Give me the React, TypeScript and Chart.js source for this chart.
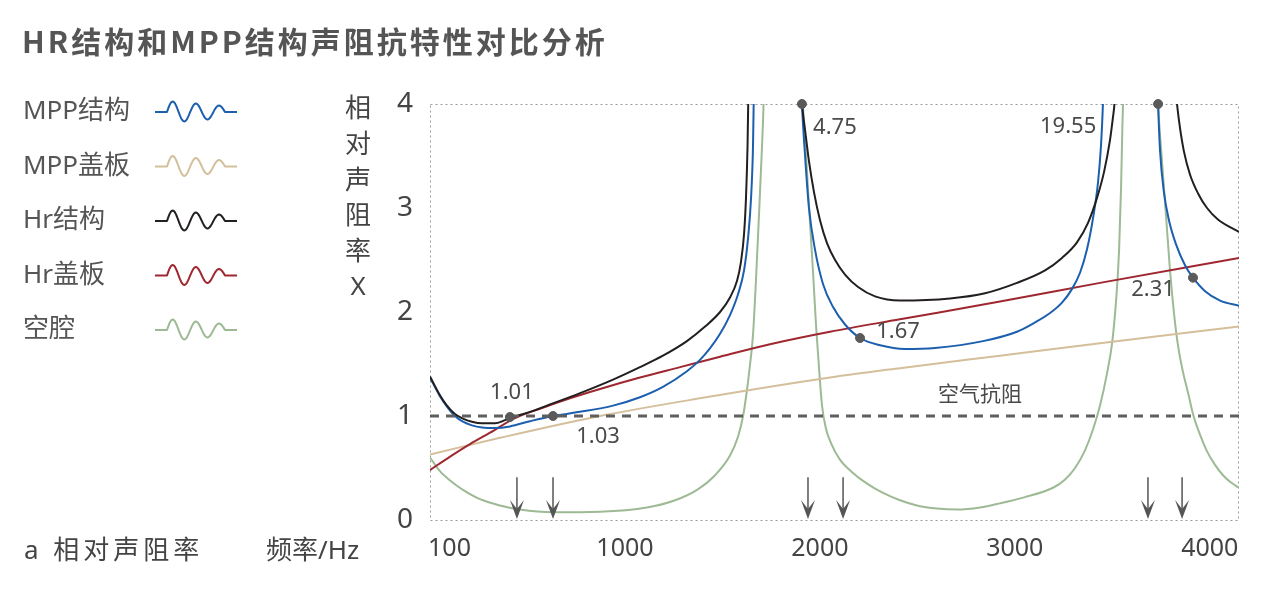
import { useEffect, useRef } from "react";
import { Chart, registerables } from "chart.js";

Chart.register(...registerables);

const FONT = "'Noto Sans', 'Noto Sans CJK SC', sans-serif";
const CJK_FONT = "'Noto Sans CJK SC', 'Noto Sans', sans-serif";

const TITLE = "HR结构和MPP结构声阻抗特性对比分析";
const Y_TITLE = ["相", "对", "声", "阻", "率", "X"];
const CORNER_LABEL = "a 相对声阻率";
const X_TITLE = "频率/Hz";
const AIR_LABEL = "空气抗阻";

const X_TICKS = [100, 1000, 2000, 3000, 4000];
const Y_TICKS = [0, 1, 2, 3, 4];

// MPP结构 (blue); null = the curve is above the plot there
const MPP_FREQ = [0, 51, 87, 128, 169, 215, 267, 333, 410, 513, 631, 770, 939, 1077, 1195, 1318, 1385, 1436, 1488, 1539, 1580, 1611, 1631, 1647, 1657, 1662, 1667, 1780, 1904, 1908, 1924, 1944, 1975, 2016, 2067, 2129, 2206, 2309, 2437, 2591, 2837, 3011, 3104, 3181, 3242, 3293, 3335, 3370, 3401, 3427, 3442, 3452, 3460, 3600, 3732, 3735, 3745, 3765, 3791, 3827, 3873, 3914, 3976, 4053, 4150];
const MPP_X = [1.37, 1.19, 1.09, 1.0, 0.945, 0.91, 0.89, 0.885, 0.9, 0.95, 1.0, 1.04, 1.1, 1.18, 1.28, 1.43, 1.54, 1.65, 1.79, 1.97, 2.17, 2.4, 2.7, 3.1, 3.6, 4.2, 4.6, null, 4.2, 4.0, 3.5, 3.0, 2.6, 2.27, 2.05, 1.88, 1.75, 1.68, 1.645, 1.655, 1.72, 1.81, 1.9, 1.99, 2.09, 2.22, 2.38, 2.6, 2.9, 3.25, 3.6, 4.0, 4.5, null, 4.2, 4.0, 3.55, 3.15, 2.88, 2.65, 2.45, 2.33, 2.2, 2.11, 2.06];

// MPP盖板 (tan)
const MPP_COVER_FREQ = [0, 359, 872, 1385, 2052, 2411, 2924, 3437, 4150];
const MPP_COVER_X = [0.63, 0.79, 1.0, 1.17, 1.37, 1.46, 1.58, 1.7, 1.86];

// Hr结构 (black)
const HR_FREQ = [0, 51, 87, 128, 169, 215, 267, 333, 385, 436, 513, 600, 770, 939, 1077, 1195, 1318, 1411, 1488, 1539, 1575, 1595, 1611, 1621, 1629, 1634, 1636, 1780, 1900, 1908, 1924, 1944, 1970, 2001, 2037, 2078, 2129, 2196, 2283, 2411, 2668, 2847, 3011, 3155, 3242, 3319, 3376, 3422, 3458, 3488, 3504, 3511, 3518, 3700, 3822, 3832, 3848, 3868, 3899, 3940, 3986, 4042, 4150];
const HR_X = [1.38, 1.2, 1.1, 1.02, 0.975, 0.945, 0.93, 0.93, 0.96, 0.995, 1.04, 1.1, 1.22, 1.35, 1.47, 1.58, 1.72, 1.86, 2.0, 2.14, 2.3, 2.48, 2.75, 3.1, 3.6, 4.2, 4.6, null, 4.2, 4.0, 3.75, 3.45, 3.15, 2.88, 2.66, 2.5, 2.36, 2.24, 2.15, 2.11, 2.13, 2.18, 2.28, 2.4, 2.52, 2.67, 2.86, 3.1, 3.35, 3.65, 3.88, 4.0, 4.25, null, 4.2, 4.0, 3.76, 3.54, 3.32, 3.14, 3.0, 2.89, 2.77];

// Hr盖板 (red)
const HR_COVER_FREQ = [0, 103, 205, 308, 436, 564, 718, 872, 1077, 1283, 1488, 1744, 2052, 2411, 2924, 3437, 4150];
const HR_COVER_X = [0.48, 0.61, 0.73, 0.84, 0.98, 1.07, 1.17, 1.26, 1.37, 1.47, 1.57, 1.69, 1.81, 1.93, 2.1, 2.28, 2.52];

// 空腔 (green)
const CAVITY_FREQ = [0, 51, 103, 169, 257, 359, 462, 631, 872, 1113, 1257, 1370, 1462, 1539, 1580, 1606, 1626, 1642, 1657, 1672, 1688, 1701, 1711, 1716, 1800, 1909, 1913, 1934, 1949, 1965, 1980, 1996, 2011, 2031, 2057, 2103, 2165, 2242, 2324, 2411, 2498, 2601, 2704, 2822, 2924, 3052, 3196, 3258, 3309, 3360, 3401, 3437, 3473, 3499, 3519, 3535, 3545, 3552, 3555, 3560, 3650, 3731, 3735, 3755, 3776, 3796, 3817, 3837, 3863, 3889, 3914, 3950, 3986, 4027, 4068, 4109, 4150];
const CAVITY_X = [0.6, 0.47, 0.38, 0.29, 0.2, 0.14, 0.1, 0.075, 0.08, 0.12, 0.19, 0.29, 0.43, 0.62, 0.8, 1.0, 1.25, 1.5, 1.78, 2.3, 2.95, 3.5, 4.0, 4.5, null, 4.2, 4.0, 3.35, 2.87, 2.38, 1.88, 1.45, 1.1, 0.88, 0.74, 0.58, 0.46, 0.35, 0.26, 0.19, 0.14, 0.11, 0.1, 0.12, 0.16, 0.22, 0.31, 0.39, 0.5, 0.67, 0.87, 1.1, 1.41, 1.7, 2.1, 2.6, 3.2, 3.8, 4.0, 4.5, null, 4.2, 4.0, 3.45, 2.92, 2.4, 1.98, 1.68, 1.42, 1.22, 1.02, 0.82, 0.66, 0.53, 0.43, 0.36, 0.31];

// air resistance reference level
const AIR_FREQ = [0, 4150];
const AIR_X = [1, 1];

// marked points
const MARK_FREQ = [410, 631, 1908, 2206, 3735, 3914];
const MARK_X = [0.99, 1.0, 4.0, 1.75, 4.0, 2.33];
const MARK_LABELS = ["1.01", "1.03", "4.75", "1.67", "19.55", "2.31"];

// resonance arrows on the frequency axis
const ARROW_FREQ = [446, 631, 1939, 2119, 3683, 3858];

const toPoints = (freq: number[], vals: (number | null)[]) =>
  freq.map((x, i) => ({ x, y: vals[i] }));

const SERIES = [
  { label: "MPP结构", color: "#1c5fae", freq: MPP_FREQ, vals: MPP_X, order: 3 },
  { label: "MPP盖板", color: "#d4bf9b", freq: MPP_COVER_FREQ, vals: MPP_COVER_X, order: 5 },
  { label: "Hr结构", color: "#231f20", freq: HR_FREQ, vals: HR_X, order: 2 },
  { label: "Hr盖板", color: "#9f2730", freq: HR_COVER_FREQ, vals: HR_COVER_X, order: 4 },
  { label: "空腔", color: "#9dba95", freq: CAVITY_FREQ, vals: CAVITY_X, order: 6 },
];

const LABEL_OFFSETS = [
  [2, -24],
  [45, 21],
  [33, 24],
  [38, -6],
  [-90, 23],
  [-40, 12],
];

function squiggle(ctx: CanvasRenderingContext2D, x0: number, y0: number, color: string) {
  ctx.save();
  ctx.strokeStyle = color;
  ctx.lineWidth = 2;
  ctx.lineJoin = "round";
  ctx.beginPath();
  ctx.moveTo(x0, y0);
  ctx.lineTo(x0 + 12, y0);
  for (let i = 0; i <= 58; i++) {
    const t = i / 58;
    const amp = 11 - 5 * t;
    ctx.lineTo(x0 + 12 + i, y0 - amp * Math.sin(t * Math.PI * 5));
  }
  ctx.lineTo(x0 + 82, y0);
  ctx.stroke();
  ctx.restore();
}

const decor = {
  id: "decor",
  beforeDatasetsDraw(chart: any) {
    const { ctx, chartArea: a } = chart;
    ctx.save();
    ctx.strokeStyle = "#9a9a9a";
    ctx.lineWidth = 1;
    ctx.setLineDash([2, 3]);
    ctx.strokeRect(a.left + 0.5, a.top + 0.5, a.width - 1, a.height);
    ctx.restore();
  },
  afterDatasetsDraw(chart: any) {
    const { ctx } = chart;
    const xs = chart.scales.x;
    const ys = chart.scales.y;
    ctx.save();

    // arrows
    ctx.strokeStyle = "#555";
    ctx.fillStyle = "#555";
    ctx.lineWidth = 1.5;
    ARROW_FREQ.forEach((f) => {
      const x = xs.getPixelForValue(f);
      const top = ys.getPixelForValue(0.41);
      const tip = ys.getPixelForValue(0) - 1;
      ctx.beginPath();
      ctx.moveTo(x, top);
      ctx.lineTo(x, tip - 8);
      ctx.stroke();
      ctx.beginPath();
      ctx.moveTo(x, tip);
      ctx.lineTo(x - 7, tip - 19);
      ctx.lineTo(x, tip - 10);
      ctx.lineTo(x + 7, tip - 19);
      ctx.closePath();
      ctx.fill();
    });

    // value labels next to marked points
    const meta = chart.getDatasetMeta(chart.data.datasets.length - 1);
    ctx.font = `22px ${FONT}`;
    ctx.fillStyle = "#4a4a4a";
    ctx.textAlign = "center";
    ctx.textBaseline = "middle";
    meta.data.forEach((pt: any, i: number) => {
      const [dx, dy] = LABEL_OFFSETS[i];
      ctx.fillText(MARK_LABELS[i], pt.x + dx, pt.y + dy);
    });

    // air resistance label
    ctx.font = `21px ${CJK_FONT}`;
    ctx.fillText(AIR_LABEL, xs.getPixelForValue(2821), ys.getPixelForValue(1.22));
    ctx.restore();
  },
  afterDraw(chart: any) {
    const { ctx } = chart;
    ctx.save();
    ctx.textBaseline = "middle";

    // title
    ctx.fillStyle = "#555";
    ctx.font = `bold 30px ${CJK_FONT}`;
    ctx.letterSpacing = "3px";
    ctx.fillText(TITLE, 22, 42);
    ctx.letterSpacing = "0px";

    // legend
    ctx.font = `26px ${FONT}`;
    SERIES.forEach((s, i) => {
      const y = 112 + i * 54.5;
      ctx.fillStyle = "#555";
      ctx.fillText(s.label, 23, y);
      squiggle(ctx, 155, y, s.color);
    });

    // vertical y-axis title
    ctx.fillStyle = "#444";
    ctx.textAlign = "center";
    Y_TITLE.forEach((ch, i) => {
      ctx.fillText(ch, 358, 110 + i * 35.6);
    });

    // bottom captions
    ctx.textAlign = "left";
    ctx.letterSpacing = "4px";
    ctx.fillText(CORNER_LABEL, 24, 552);
    ctx.letterSpacing = "0px";
    ctx.fillText(X_TITLE, 266, 552);
    ctx.restore();
  },
};

export default function App() {
  const canvasRef = useRef<HTMLCanvasElement>(null);
  const chartRef = useRef<Chart | null>(null);

  useEffect(() => {
    if (!canvasRef.current) return;
    const context = canvasRef.current.getContext("2d");
    if (!context) return;

    chartRef.current?.destroy();

    const lines: any[] = SERIES.map((s) => ({
      label: s.label,
      data: toPoints(s.freq, s.vals),
      borderColor: s.color,
      backgroundColor: s.color,
      borderWidth: 2,
      pointRadius: 0,
      cubicInterpolationMode: "monotone",
      spanGaps: false,
      order: s.order,
    }));

    chartRef.current = new Chart(context, {
      type: "line",
      data: {
        datasets: [
          ...lines,
          {
            label: AIR_LABEL,
            data: toPoints(AIR_FREQ, AIR_X),
            borderColor: "#5f5f5f",
            borderWidth: 3,
            borderDash: [9, 7],
            pointRadius: 0,
            order: 1,
          },
          {
            type: "scatter",
            label: "marks",
            data: toPoints(MARK_FREQ, MARK_X),
            backgroundColor: "#5a5a5a",
            borderColor: "#5a5a5a",
            pointRadius: 4.5,
            showLine: false,
            clip: false,
            order: 0,
          },
        ],
      },
      options: {
        animation: false,
        responsive: false,
        events: [],
        layout: { padding: { top: 104, right: 27, left: 0, bottom: 0 } },
        plugins: { legend: { display: false }, tooltip: { enabled: false } },
        scales: {
          x: {
            type: "linear",
            min: 0,
            max: 4150,
            grid: { display: false, drawTicks: false },
            border: { display: false },
            afterBuildTicks: (s: any) => {
              s.ticks = X_TICKS.map((v) => ({ value: v }));
            },
            afterFit: (s: any) => {
              s.height = 71;
            },
            ticks: {
              autoSkip: false,
              maxRotation: 0,
              padding: 14,
              color: "#444",
              font: { family: FONT, size: 25 },
              callback: (v: any) => String(v),
            },
          },
          y: {
            type: "linear",
            min: 0,
            max: 4,
            grid: { display: false, drawTicks: false },
            border: { display: false },
            afterBuildTicks: (s: any) => {
              s.ticks = Y_TICKS.map((v) => ({ value: v }));
            },
            afterFit: (s: any) => {
              s.width = 430;
            },
            ticks: {
              padding: 17,
              color: "#444",
              font: { family: FONT, size: 28 },
            },
          },
        },
      },
      plugins: [decor],
    } as any);

    return () => {
      chartRef.current?.destroy();
      chartRef.current = null;
    };
  }, []);

  return (
    <div style={{ position: "fixed", left: 0, top: 0, width: 1266, height: 591, background: "#fff" }}>
      <canvas ref={canvasRef} width={1266} height={591} style={{ display: "block" }} />
    </div>
  );
}
